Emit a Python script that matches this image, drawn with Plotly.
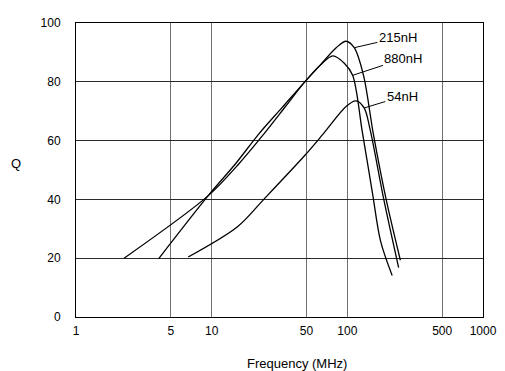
import math
import plotly.graph_objects as go

# Q vs frequency curves
freq_880 = [2.26, 9.4, 16.0, 24.3, 35, 48.4, 62.6, 78.3, 95, 109.4, 129, 153, 176, 214]
q_880 = [20, 41.2, 52.3, 62.3, 71.6, 79.9, 85.5, 88.8, 86.3, 82.2, 62.9, 42.3, 25.7, 14.1]

freq_215 = [4.06, 9.4, 15.1, 22.3, 33, 48.4, 62.6, 82.8, 97.9, 112.4, 131.6, 155.6, 193.4, 246]
q_215 = [19.8, 41.2, 52.3, 62.3, 71.2, 79.9, 85.5, 91.6, 93.8, 91.6, 82.2, 62.2, 39.9, 19.3]

freq_54 = [6.71, 15.5, 24.3, 48.7, 66.2, 97.9, 115.6, 133, 147, 185.8, 238.9]
q_54 = [20.4, 30.7, 40.1, 55.0, 62.2, 71.6, 73.5, 71.1, 63.9, 39.9, 16.8]

x_ticks = [1, 5, 10, 50, 100, 500, 1000]
x_tick_text = ["1", "5", "10", "50", "100", "500", "1000"]
y_ticks = [0, 20, 40, 60, 80, 100]

# label name, anchor point on curve (freq, Q)
labels = [("215nH", 112.4, 91.6), ("880nH", 109.4, 82.2), ("54nH", 133, 71.1)]
label_offsets = [(43.6, -10), (50.8, -16.7), (38.2, -11.6)]

FONT = "Liberation Sans, Arial, sans-serif"

fig = go.Figure()
for fx, qy in [(freq_880, q_880), (freq_215, q_215), (freq_54, q_54)]:
    fig.add_trace(go.Scatter(
        x=fx, y=qy, mode="lines",
        line=dict(color="black", width=1.3, shape="spline", smoothing=0.9),
        showlegend=False, hoverinfo="skip",
    ))

annotations = []
for (name, f, q), (ax, ay) in zip(labels, label_offsets):
    annotations.append(dict(
        x=math.log10(f), y=q, xref="x", yref="y", text=name,
        showarrow=True, arrowhead=0, arrowwidth=1, arrowcolor="black",
        ax=ax, ay=ay, standoff=0, font=dict(size=13, color="black", family=FONT),
    ))
annotations.append(dict(
    x=0.5425, y=-0.158, xref="paper", yref="paper", text="Frequency (MHz)",
    showarrow=False, xanchor="center", yanchor="middle",
    font=dict(size=13, color="black", family=FONT),
))
annotations.append(dict(
    x=-0.1486, y=0.5226, xref="paper", yref="paper", text="Q",
    showarrow=False, xanchor="center", yanchor="middle",
    font=dict(size=13, color="black", family=FONT),
))

# the page body has an 8px margin, so the figure is sized 8px smaller
fig.update_layout(
    width=497, height=363,
    margin=dict(l=68, r=16, t=8, b=54),
    paper_bgcolor="white", plot_bgcolor="white",
    font=dict(family=FONT, size=12, color="black"),
    annotations=annotations,
    xaxis=dict(
        type="log", range=[0, 3], tickvals=x_ticks, ticktext=x_tick_text,
        showgrid=True, gridcolor="#707070", gridwidth=1,
        showline=True, linecolor="black", linewidth=1, mirror=True,
        ticks="", zeroline=False, ticklabelstandoff=3,
        tickfont=dict(size=12, color="black", family=FONT),
    ),
    yaxis=dict(
        range=[0, 100], tickvals=y_ticks,
        showgrid=True, gridcolor="#2a2a2a", gridwidth=1,
        showline=True, linecolor="black", linewidth=1, mirror=True,
        ticks="", zeroline=False, ticklabelstandoff=12,
        tickfont=dict(size=12, color="black", family=FONT),
    ),
)

fig.write_html("out.html")
